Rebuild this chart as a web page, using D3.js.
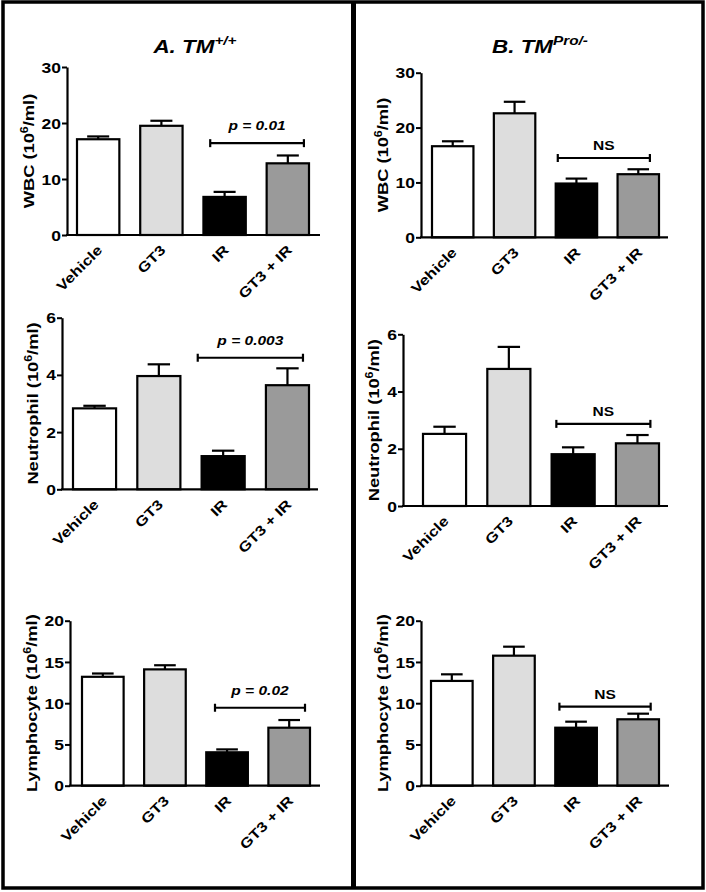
<!DOCTYPE html>
<html lang="en">
    <head>
        <meta charset="utf-8">
        <title>Blood counts</title>
        <script src="https://d3js.org/d3.v7.min.js"></script>
        <style>
            body { margin: 0; background: #fff; }
            text { font-family: "Liberation Sans", Arial, sans-serif; font-weight: bold; fill: #000; }
        </style>
    </head>
    <body>
        <script type="text/javascript">
            var width = 706, height = 892;

            // data
            var groups = ["Vehicle", "GT3", "IR", "GT3 + IR"];
            var fills = ["#ffffff", "#dddddd", "#000000", "#9a9a9a"];

            var wbcA = [17.1, 19.5, 6.8, 12.8];
            var wbcAErr = [0.5, 0.9, 0.9, 1.4];
            var wbcB = [16.6, 22.6, 9.8, 11.5];
            var wbcBErr = [0.9, 2.1, 0.9, 0.9];

            var neuA = [2.83, 3.96, 1.16, 3.64];
            var neuAErr = [0.09, 0.41, 0.19, 0.59];
            var neuB = [2.52, 4.79, 1.81, 2.19];
            var neuBErr = [0.25, 0.77, 0.24, 0.29];

            var lymA = [13.2, 14.1, 4.05, 7.03];
            var lymAErr = [0.4, 0.5, 0.35, 0.93];
            var lymB = [12.7, 15.76, 7.03, 8.05];
            var lymBErr = [0.8, 1.09, 0.73, 0.68];

            var yLabels = ["WBC", "Neutrophil", "Lymphocyte"];
            var yMax = [30, 6, 20];
            var yStep = [10, 2, 5];

            // significance between IR and GT3 + IR: text and bracket height (data units)
            var sigA = [["p = 0.01", 16.4], ["p = 0.003", 4.6], ["p = 0.02", 9.45]];
            var sigB = [["NS", 14.45], ["NS", 2.87], ["NS", 9.58]];

            var SX = 1.22; // the figure's font runs wider than Arial

            var svg = d3.select("body")
                .append("svg")
                .attr("width", width)
                .attr("height", height);

            // frame
            svg.append("rect")
                .attr("x", 3).attr("y", 2)
                .attr("width", 700).attr("height", 886)
                .attr("fill", "none").attr("stroke", "#000").attr("stroke-width", 3.5);
            svg.append("line")
                .attr("x1", 353.5).attr("x2", 353.5).attr("y1", 2).attr("y2", 888)
                .attr("stroke", "#000").attr("stroke-width", 5);

            // titles
            function title(cx, main, sup) {
                var t = svg.append("text")
                    .attr("text-anchor", "middle")
                    .attr("font-style", "italic")
                    .attr("font-size", 19)
                    .attr("transform", "translate(" + cx + ",53) scale(1.18,1)");
                t.append("tspan").text(main);
                t.append("tspan").attr("font-size", 13).attr("dy", -8).text(sup);
            }
            title(195, "A. TM", "+/+");
            title(540, "B. TM", "Pro/-");

            // panel geometry: axis x extent, bar extent, y(0) and y(max)
            var layout = [
                {axis: [67, 320], bars: [77, 309], y0: 235, y1: 67},
                {axis: [62, 318], bars: [73, 309], y0: 489.3, y1: 317.7},
                {axis: [70, 320], bars: [82, 310], y0: 785.7, y1: 620.7},
                {axis: [421, 668], bars: [432, 659], y0: 237.3, y1: 72.7},
                {axis: [403, 668], bars: [423, 659], y0: 506, y1: 334.3},
                {axis: [421, 669], bars: [431, 659], y0: 785.7, y1: 620.7}
            ];
            // bracket ends as fraction of bandwidth (IR start, GT3 + IR start)
            var bracketFrac = [[0.16, 0.88], [-0.09, 0.86], [0.21, 0.88], [0.05, 0.78], [0.11, 0.8], [0.1, 0.8]];

            var series = [
                [wbcA, wbcAErr], [neuA, neuAErr], [lymA, lymAErr],
                [wbcB, wbcBErr], [neuB, neuBErr], [lymB, lymBErr]
            ];

            series.forEach(function (s, i) {
                var row = i % 3;
                var L = layout[i];
                var sig = i < 3 ? sigA[row] : sigB[row];
                var vals = s[0], errs = s[1];

                var y = d3.scaleLinear().domain([0, yMax[row]]).range([L.y0, L.y1]);
                var x = d3.scaleBand().domain(groups).range(L.bars).paddingInner(0.33).paddingOuter(0);
                var bw = x.bandwidth();

                var g = svg.append("g");

                // error bars (up only)
                var eb = g.selectAll("g.err")
                    .data(vals)
                    .enter()
                    .append("g")
                    .attr("stroke", "#000")
                    .attr("stroke-width", 2.2);
                eb.append("line")
                    .attr("x1", function (d, j) { return x(groups[j]) + bw / 2; })
                    .attr("x2", function (d, j) { return x(groups[j]) + bw / 2; })
                    .attr("y1", function (d) { return y(d); })
                    .attr("y2", function (d, j) { return y(d + errs[j]); });
                eb.append("line")
                    .attr("x1", function (d, j) { return x(groups[j]) + bw * 0.24; })
                    .attr("x2", function (d, j) { return x(groups[j]) + bw * 0.76; })
                    .attr("y1", function (d, j) { return y(d + errs[j]); })
                    .attr("y2", function (d, j) { return y(d + errs[j]); });

                // bars
                g.selectAll("rect.bar")
                    .data(vals)
                    .enter()
                    .append("rect")
                    .attr("class", "bar")
                    .attr("x", function (d, j) { return x(groups[j]); })
                    .attr("y", function (d) { return y(d); })
                    .attr("width", bw)
                    .attr("height", function (d) { return y(0) - y(d); })
                    .attr("fill", function (d, j) { return fills[j]; })
                    .attr("stroke", "#000")
                    .attr("stroke-width", 2.2);

                // y axis
                var ax = g.append("g")
                    .attr("transform", "translate(" + L.axis[0] + ",0)")
                    .call(d3.axisLeft(y)
                        .tickValues(d3.range(0, yMax[row] + yStep[row] / 2, yStep[row]))
                        .tickFormat(d3.format("d"))
                        .tickSize(5)
                        .tickSizeOuter(0));
                ax.select(".domain").attr("stroke-width", 2.2);
                ax.selectAll(".tick line").attr("stroke-width", 2);
                ax.selectAll(".tick text")
                    .attr("x", 0)
                    .attr("dy", "0.36em")
                    .attr("font-size", 14)
                    .attr("font-family", null)
                    .attr("transform", "translate(-6,0) scale(1.25,1)");

                // x base line
                g.append("line")
                    .attr("x1", L.axis[0] - 1).attr("x2", L.axis[1])
                    .attr("y1", y(0)).attr("y2", y(0))
                    .attr("stroke", "#000").attr("stroke-width", 2.2);

                // x labels, rotated
                g.selectAll("text.xl")
                    .data(groups)
                    .enter()
                    .append("text")
                    .attr("class", "xl")
                    .attr("text-anchor", "end")
                    .attr("font-size", 13.8)
                    .attr("transform", function (d) {
                        return "translate(" + (x(d) + bw / 2 + 5) + "," + (y(0) + 16) + ") rotate(-45) scale(" + SX + ",1)";
                    })
                    .text(function (d) { return d; });

                // y label
                var bb = ax.node().getBBox();
                var lx = L.axis[0] + bb.x - 8;
                var yl = g.append("text")
                    .attr("text-anchor", "middle")
                    .attr("font-size", 15.5)
                    .attr("transform", "translate(" + lx + "," + ((L.y0 + L.y1) / 2) + ") rotate(-90) scale(1.18,1)");
                yl.append("tspan").text(yLabels[row] + " (10");
                yl.append("tspan").attr("font-size", 10.5).attr("dy", -6).text("6");
                yl.append("tspan").attr("dy", 6).text("/ml)");

                // significance bracket
                var bx1 = x(groups[2]) + bracketFrac[i][0] * bw;
                var bx2 = x(groups[3]) + bracketFrac[i][1] * bw;
                var by = y(sig[1]);
                var br = g.append("g").attr("stroke", "#000").attr("stroke-width", 2.2);
                br.append("line").attr("x1", bx1).attr("x2", bx2).attr("y1", by).attr("y2", by);
                br.append("line").attr("x1", bx1).attr("x2", bx1).attr("y1", by - 4).attr("y2", by + 4);
                br.append("line").attr("x1", bx2).attr("x2", bx2).attr("y1", by - 4).attr("y2", by + 4);

                var isP = sig[0] !== "NS";
                g.append("text")
                    .attr("text-anchor", "middle")
                    .attr("font-size", 13.5)
                    .attr("font-style", isP ? "italic" : null)
                    .attr("transform", "translate(" + ((bx1 + bx2) / 2) + "," + (by - (isP ? 13 : 8)) + ") scale(1.15,1)")
                    .text(sig[0]);
            });
        </script>
    </body>
</html>
